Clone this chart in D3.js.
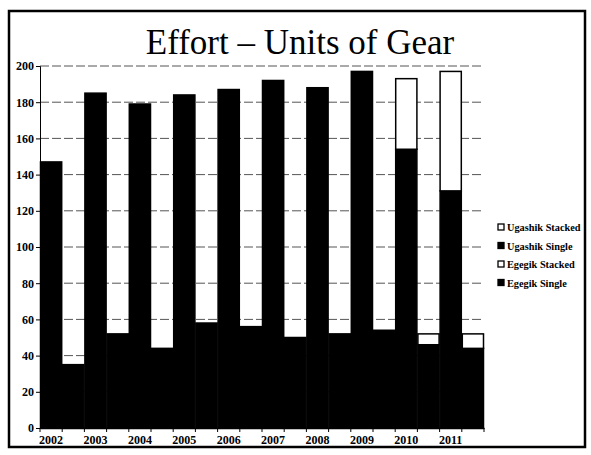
<!DOCTYPE html>
<html>
<head>
<meta charset="utf-8">
<script src="https://cdn.jsdelivr.net/npm/d3@7"></script>
<style>
  body { margin: 0; background: #fff; }
</style>
</head>
<body>
<svg id="chart" width="591" height="455"></svg>
<script>
// data
const years = ["2002", "2003", "2004", "2005", "2006", "2007", "2008", "2009", "2010", "2011"];
const ugashikSingle = [147, 185, 179, 184, 187, 192, 188, 197, 154, 131];
const ugashikStacked = [0, 0, 0, 0, 0, 0, 0, 0, 39, 66];
const egegikSingle = [35, 52, 44, 58, 56, 50, 52, 54, 46, 44];
const egegikStacked = [0, 0, 0, 0, 0, 0, 0, 0, 6, 8];
const yTicks = [0, 20, 40, 60, 80, 100, 120, 140, 160, 180, 200];
const legendItems = ["Ugashik Stacked", "Ugashik Single", "Egegik Stacked", "Egegik Single"];

const serif = "Liberation Serif";

const svg = d3.select("#chart");
const margin = { top: 66, left: 40, right: 107, bottom: 27 };
const width = +svg.attr("width");
const height = +svg.attr("height");
const plotW = width - margin.left - margin.right;
const plotH = height - margin.top - margin.bottom;

// outer frame
svg.append("rect")
  .attr("x", 9).attr("y", 11)
  .attr("width", 576).attr("height", 436)
  .attr("fill", "none")
  .attr("stroke", "#000")
  .attr("stroke-width", 2.5);

svg.append("text")
  .attr("x", 300).attr("y", 54)
  .attr("text-anchor", "middle")
  .attr("font-family", serif)
  .style("font-size", "35px")
  .text("Effort \u2013 Units of Gear");

const g = svg.append("g")
  .attr("transform", `translate(${margin.left},${margin.top})`);

// two slots per year: Ugashik then Egegik
const slots = [];
years.forEach((y, i) => {
  slots.push({ key: y + "-U", single: ugashikSingle[i], stacked: ugashikStacked[i] });
  slots.push({ key: y + "-E", single: egegikSingle[i], stacked: egegikStacked[i] });
});

const x = d3.scaleBand()
  .domain(slots.map(d => d.key))
  .range([0, plotW])
  .padding(0);

const y = d3.scaleLinear()
  .domain([0, 200])
  .range([plotH, 0]);

// gridlines
g.append("g")
  .selectAll("line")
  .data(yTicks.filter(t => t > 0))
  .enter()
  .append("line")
  .attr("x1", 0).attr("x2", plotW)
  .attr("y1", d => y(d)).attr("y2", d => y(d))
  .attr("stroke", "#555")
  .attr("stroke-width", 1)
  .attr("stroke-dasharray", "9,3");

// stacks
const stacked = d3.stack().keys(["single", "stacked"])(slots);
const fills = { single: "#000", stacked: "#fff" };

g.selectAll("g.series")
  .data(stacked)
  .enter()
  .append("g")
  .attr("class", "series")
  .selectAll("rect")
  .data(s => s.map(d => ({ d: d, key: s.key })).filter(o => o.d[1] - o.d[0] > 0))
  .enter()
  .append("rect")
  .attr("x", o => x(o.d.data.key) + 0.5)
  .attr("width", x.bandwidth() - 1)
  .attr("y", o => y(o.d[1]))
  .attr("height", o => y(o.d[0]) - y(o.d[1]))
  .attr("fill", o => fills[o.key])
  .attr("stroke", "#000")
  .attr("stroke-width", 1.5);

// y axis
const yAxis = g.append("g")
  .attr("font-family", serif)
  .call(d3.axisLeft(y).tickValues(yTicks).tickSize(4).tickPadding(2));
yAxis.select(".domain").attr("stroke", "#000").attr("stroke-width", 1);
yAxis.selectAll("text")
  .attr("font-family", serif)
  .style("font-size", "12px")
  .style("font-weight", "bold")
  .attr("fill", "#000");

// x axis
const xAxis = g.append("g")
  .attr("transform", `translate(0,${plotH})`)
  .call(d3.axisBottom(x).tickSize(0).tickPadding(7).tickFormat(k => k.endsWith("-U") ? k.slice(0, 4) : ""));
xAxis.select(".domain").attr("stroke", "#000").attr("stroke-width", 1.5);
xAxis.selectAll("text")
  .attr("font-family", serif)
  .style("font-size", "12px")
  .style("font-weight", "bold")
  .attr("fill", "#000");

// boundary ticks between slots
g.append("g")
  .selectAll("line")
  .data(d3.range(slots.length + 1))
  .enter()
  .append("line")
  .attr("x1", i => i * x.step()).attr("x2", i => i * x.step())
  .attr("y1", plotH).attr("y2", plotH + 4)
  .attr("stroke", "#000")
  .attr("stroke-width", 1);

// legend
const legend = svg.selectAll(".legend")
  .data(legendItems)
  .enter()
  .append("g")
  .attr("class", "legend")
  .attr("transform", (d, i) => `translate(498,${231 + i * 18.5})`);

legend.append("rect")
  .attr("x", 0).attr("y", -7)
  .attr("width", 6).attr("height", 6)
  .attr("fill", d => d.includes("Stacked") ? "#fff" : "#000")
  .attr("stroke", "#000")
  .attr("stroke-width", 1.3);

legend.append("text")
  .attr("x", 9).attr("y", 0)
  .attr("font-family", serif)
  .style("font-size", "10.3px")
  .style("font-weight", "bold")
  .text(d => d);
</script>
</body>
</html>
